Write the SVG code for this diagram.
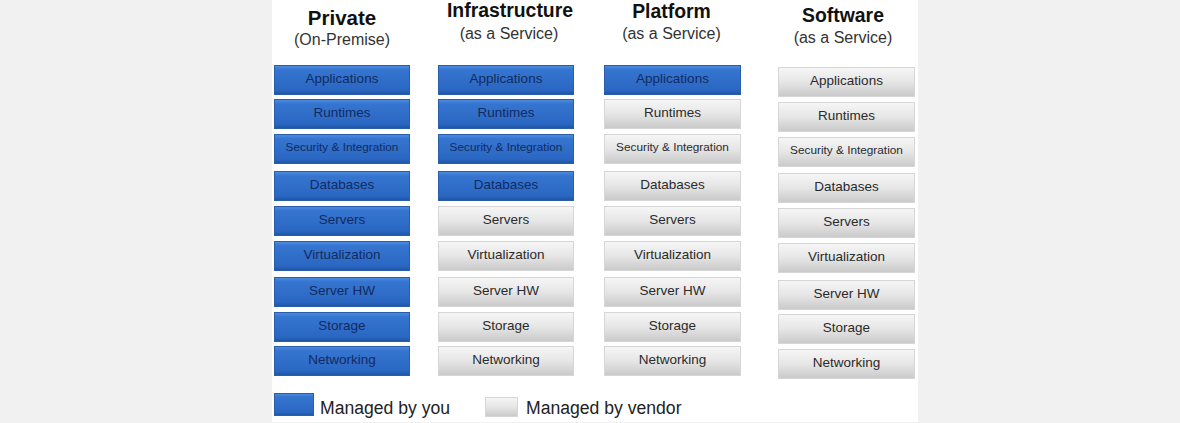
<svg xmlns="http://www.w3.org/2000/svg" width="1180" height="423" viewBox="0 0 1180 423">
<defs>
<linearGradient id="gb" x1="0" y1="0" x2="0" y2="1">
<stop offset="0" stop-color="#4d8ee4"/>
<stop offset="0.15" stop-color="#3575d0"/>
<stop offset="0.85" stop-color="#2a67c2"/>
<stop offset="1" stop-color="#1d54a4"/>
</linearGradient>
<linearGradient id="gg" x1="0" y1="0" x2="0" y2="1">
<stop offset="0" stop-color="#f6f6f6"/>
<stop offset="0.5" stop-color="#e6e6e6"/>
<stop offset="1" stop-color="#c9c9c9"/>
</linearGradient>
<style>
.b rect{fill:url(#gb);stroke:#2a5ea8;stroke-width:1}
.g rect{fill:url(#gg);stroke:#d6d6d6;stroke-width:1}
.b text{fill:#132b60}
.g text{fill:#2a2a2a}
text{font-family:"Liberation Sans",Arial,sans-serif;text-anchor:middle}
.lbl{font-size:13.5px}
.sm{font-size:11.8px}
.t{font-weight:bold;fill:#111}
.st{font-size:16px;fill:#333}
.lg{font-size:17.6px;fill:#222;text-anchor:start}
</style>
</defs>
<rect width="1180" height="423" fill="#f1f1f1"/>
<rect x="272" y="0" width="646" height="422" fill="#ffffff"/>

<g id="headers">
<text class="t" x="342" y="25" font-size="20.5">Private</text>
<text class="st" x="342" y="45">(On-Premise)</text>
<text class="t" x="510" y="17" font-size="19.4">Infrastructure</text>
<text class="st" x="509" y="39">(as a Service)</text>
<text class="t" x="671.5" y="18" font-size="19.4">Platform</text>
<text class="st" x="671.5" y="39">(as a Service)</text>
<text class="t" x="843" y="22" font-size="19.4">Software</text>
<text class="st" x="843" y="43">(as a Service)</text>
</g>

<g id="col-private">
<g id="p-app" class="b"><rect x="274.5" y="65.5" width="135" height="29"/><text class="lbl" x="342" y="82.5">Applications</text></g>
<g id="p-run" class="b"><rect x="274.5" y="99.5" width="135" height="29"/><text class="lbl" x="342" y="116.5">Runtimes</text></g>
<g id="p-sec" class="b"><rect x="274.5" y="134.5" width="135" height="29"/><text class="sm" x="342" y="150.5">Security &amp; Integration</text></g>
<g id="p-db" class="b"><rect x="274.5" y="171.5" width="135" height="29"/><text class="lbl" x="342" y="188.5">Databases</text></g>
<g id="p-srv" class="b"><rect x="274.5" y="206.5" width="135" height="29"/><text class="lbl" x="342" y="223.5">Servers</text></g>
<g id="p-virt" class="b"><rect x="274.5" y="241.5" width="135" height="29"/><text class="lbl" x="342" y="258.5">Virtualization</text></g>
<g id="p-hw" class="b"><rect x="274.5" y="277.5" width="135" height="29"/><text class="lbl" x="342" y="294.5">Server HW</text></g>
<g id="p-sto" class="b"><rect x="274.5" y="312.5" width="135" height="29"/><text class="lbl" x="342" y="329.5">Storage</text></g>
<g id="p-net" class="b"><rect x="274.5" y="346.5" width="135" height="29"/><text class="lbl" x="342" y="363.5">Networking</text></g>
</g>

<g id="col-iaas">
<g id="i-app" class="b"><rect x="438.5" y="65.5" width="135" height="29"/><text class="lbl" x="506" y="82.5">Applications</text></g>
<g id="i-run" class="b"><rect x="438.5" y="99.5" width="135" height="29"/><text class="lbl" x="506" y="116.5">Runtimes</text></g>
<g id="i-sec" class="b"><rect x="438.5" y="134.5" width="135" height="29"/><text class="sm" x="506" y="150.5">Security &amp; Integration</text></g>
<g id="i-db" class="b"><rect x="438.5" y="171.5" width="135" height="29"/><text class="lbl" x="506" y="188.5">Databases</text></g>
<g id="i-srv" class="g"><rect x="438.5" y="206.5" width="135" height="29"/><text class="lbl" x="506" y="223.5">Servers</text></g>
<g id="i-virt" class="g"><rect x="438.5" y="241.5" width="135" height="29"/><text class="lbl" x="506" y="258.5">Virtualization</text></g>
<g id="i-hw" class="g"><rect x="438.5" y="277.5" width="135" height="29"/><text class="lbl" x="506" y="294.5">Server HW</text></g>
<g id="i-sto" class="g"><rect x="438.5" y="312.5" width="135" height="29"/><text class="lbl" x="506" y="329.5">Storage</text></g>
<g id="i-net" class="g"><rect x="438.5" y="346.5" width="135" height="29"/><text class="lbl" x="506" y="363.5">Networking</text></g>
</g>

<g id="col-paas">
<g id="a-app" class="b"><rect x="604.5" y="65.5" width="136" height="29"/><text class="lbl" x="672.5" y="82.5">Applications</text></g>
<g id="a-run" class="g"><rect x="604.5" y="99.5" width="136" height="29"/><text class="lbl" x="672.5" y="116.5">Runtimes</text></g>
<g id="a-sec" class="g"><rect x="604.5" y="134.5" width="136" height="29"/><text class="sm" x="672.5" y="150.5">Security &amp; Integration</text></g>
<g id="a-db" class="g"><rect x="604.5" y="171.5" width="136" height="29"/><text class="lbl" x="672.5" y="188.5">Databases</text></g>
<g id="a-srv" class="g"><rect x="604.5" y="206.5" width="136" height="29"/><text class="lbl" x="672.5" y="223.5">Servers</text></g>
<g id="a-virt" class="g"><rect x="604.5" y="241.5" width="136" height="29"/><text class="lbl" x="672.5" y="258.5">Virtualization</text></g>
<g id="a-hw" class="g"><rect x="604.5" y="277.5" width="136" height="29"/><text class="lbl" x="672.5" y="294.5">Server HW</text></g>
<g id="a-sto" class="g"><rect x="604.5" y="312.5" width="136" height="29"/><text class="lbl" x="672.5" y="329.5">Storage</text></g>
<g id="a-net" class="g"><rect x="604.5" y="346.5" width="136" height="29"/><text class="lbl" x="672.5" y="363.5">Networking</text></g>
</g>

<g id="col-saas">
<g id="s-app" class="g"><rect x="778.5" y="67.5" width="136" height="29"/><text class="lbl" x="846.5" y="84.5">Applications</text></g>
<g id="s-run" class="g"><rect x="778.5" y="102.5" width="136" height="29"/><text class="lbl" x="846.5" y="119.5">Runtimes</text></g>
<g id="s-sec" class="g"><rect x="778.5" y="137.5" width="136" height="29"/><text class="sm" x="846.5" y="153.5">Security &amp; Integration</text></g>
<g id="s-db" class="g"><rect x="778.5" y="173.5" width="136" height="29"/><text class="lbl" x="846.5" y="190.5">Databases</text></g>
<g id="s-srv" class="g"><rect x="778.5" y="208.5" width="136" height="29"/><text class="lbl" x="846.5" y="225.5">Servers</text></g>
<g id="s-virt" class="g"><rect x="778.5" y="243.5" width="136" height="29"/><text class="lbl" x="846.5" y="260.5">Virtualization</text></g>
<g id="s-hw" class="g"><rect x="778.5" y="280.5" width="136" height="29"/><text class="lbl" x="846.5" y="297.5">Server HW</text></g>
<g id="s-sto" class="g"><rect x="778.5" y="314.5" width="136" height="29"/><text class="lbl" x="846.5" y="331.5">Storage</text></g>
<g id="s-net" class="g"><rect x="778.5" y="349.5" width="136" height="29"/><text class="lbl" x="846.5" y="366.5">Networking</text></g>
</g>

<g id="legend">
<g id="leg-you" class="b"><rect x="274.5" y="393.5" width="39" height="22"/></g>
<text class="lg" x="320" y="414">Managed by you</text>
<g id="leg-vendor" class="g"><rect x="485.5" y="397.5" width="32" height="19"/></g>
<text class="lg" x="526" y="414">Managed by vendor</text>
</g>
<g id="connectors"/>
</svg>
